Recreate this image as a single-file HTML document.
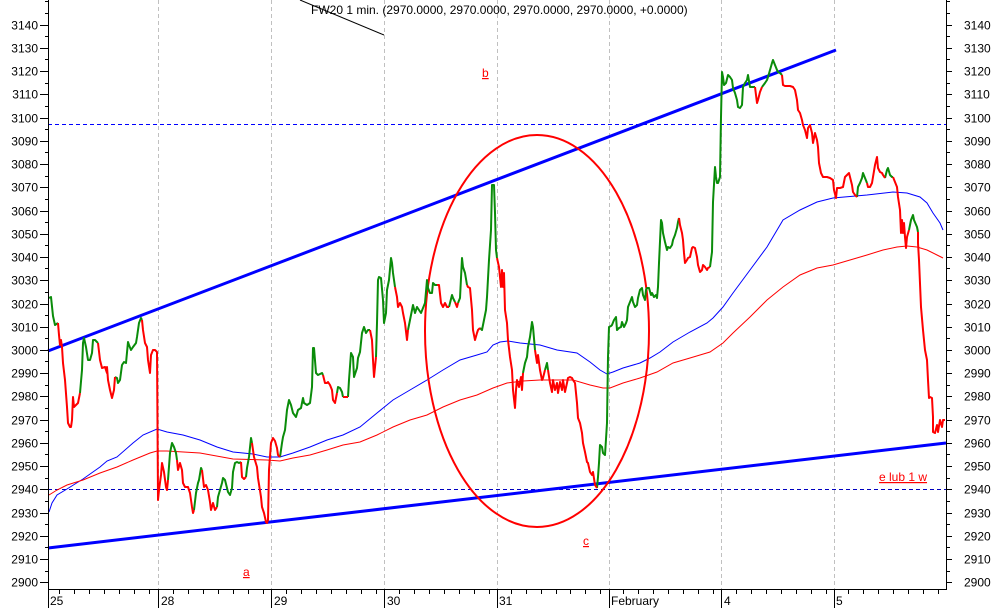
<!DOCTYPE html>
<html><head><meta charset="utf-8"><style>
html,body{margin:0;padding:0;background:#fff;}
svg{display:block;}
text{font-family:"Liberation Sans",Arial,sans-serif;font-size:12px;fill:#000;}
.lbl{fill:#f00;text-decoration:underline;}
</style></head><body>
<svg width="994" height="608" viewBox="0 0 994 608" xmlns="http://www.w3.org/2000/svg">
<rect width="994" height="608" fill="#fff"/>
<!-- vertical day gridlines -->
<g stroke="#c0c0c0" stroke-width="1" stroke-dasharray="4,3">
<line x1="158.5" y1="0" x2="158.5" y2="589"/>
<line x1="271.5" y1="0" x2="271.5" y2="589"/>
<line x1="384.5" y1="0" x2="384.5" y2="589"/>
<line x1="497.5" y1="0" x2="497.5" y2="589"/>
<line x1="609.5" y1="0" x2="609.5" y2="589"/>
<line x1="721.5" y1="0" x2="721.5" y2="589"/>
<line x1="834.5" y1="0" x2="834.5" y2="589"/>
</g>
<!-- horizontal dashed levels -->
<line x1="48" y1="124.5" x2="946" y2="124.5" stroke="#0000ff" stroke-width="1" stroke-dasharray="4,3"/>
<line x1="48" y1="489.5" x2="946" y2="489.5" stroke="#0000c0" stroke-width="1" stroke-dasharray="4,3"/>
<!-- diagonal black line near title -->
<line x1="300" y1="0" x2="384" y2="35" stroke="#000" stroke-width="1"/>
<!-- moving averages -->
<polyline fill="none" stroke="#0000ff" stroke-width="1" points="49,512 52,503 57,495 67,489 83,479 100,467 107,461 117,457 133,443 143,435 157,429 167,432 183,435 200,440 217,447 233,452 253,454 267,457 280,457 293,453 310,447 327,440 343,435 360,427 377,413 393,400 410,390 427,380 443,370 460,360 477,355 487,352 493,345 500,342 508,341 520,343 540,345 557,350 577,353 590,362 600,370 607,374 613,372 623,368 640,363 650,358 660,352 673,342 690,332 707,323 713,318 723,307 733,293 750,270 767,247 783,220 800,210 817,202 833,198 867,195 893,192 907,193 920,197 927,203 933,213 940,223 943,230"/>
<polyline fill="none" stroke="#ff0000" stroke-width="1" points="49,495 57,490 67,485 83,480 100,473 117,467 133,460 150,453 157,451 167,451 200,453 233,459 267,460 280,461 293,458 310,455 327,450 343,445 360,442 377,435 393,427 410,420 427,415 443,407 460,400 477,395 493,388 507,383 523,381 540,380 557,380 573,380 590,385 603,388 610,388 623,383 640,378 657,372 673,363 690,358 700,355 710,352 723,343 733,333 750,317 767,300 783,287 800,275 817,268 833,265 850,260 867,255 883,250 897,247 907,246 917,247 927,250 937,255 943,258"/>
<!-- trend lines -->
<line x1="48" y1="351" x2="836" y2="50" stroke="#0000ff" stroke-width="3"/>
<line x1="48" y1="548" x2="946" y2="443" stroke="#0000ff" stroke-width="3"/>
<!-- ellipse -->
<ellipse cx="537" cy="331" rx="112" ry="196" fill="none" stroke="#ff0000" stroke-width="2"/>
<!-- price -->
<g fill="none" stroke-width="2" stroke-linejoin="round">
<g stroke="#0a8c0a">
<polyline points="49,298 51,297 53,316 55,325 58,323"/>
<polyline points="80,393 82,370 83,343 84,338 86,347 88,360 90,360 92,353 93,340 95,340 98,343"/>
<polyline points="115,377 117,378 118,383 120,380 122,365 124,362 126,363 128,342 129,345 131,350 133,347 136,343 137,337 139,323 141,318 142,320"/>
<polyline points="168,480 170,453 172,443 174,447 176,453 177,460"/>
<polyline points="194,510 196,493 198,483 199,480 201,468 202,470"/>
<polyline points="217,507 218,497 220,490 222,483 223,478 225,480 227,488 228,492 230,495 232,488 233,472 235,463 237,462 239,463 241,462"/>
<polyline points="246,477 247,468 249,457 251,438 252,443"/>
<polyline points="280,457 282,443 283,437 285,430 287,410 289,400 291,405 293,413 296,417 298,410 301,408 303,398 304,403 307,405 310,403 312,387 313,348 314,348 316,373 318,375 322,373 323,375"/>
<polyline points="337,393 338,387 340,388 342,392 343,397"/>
<polyline points="348,397 349,380 351,353 353,357 354,377 357,368 358,358 360,352 362,333 364,327 366,333 368,330 370,330"/>
<polyline points="376,357 377,323 378,280 379,277 381,278 383,300 384,323 386,313 387,290 389,280 391,258 392,263 393,273 395,287"/>
<polyline points="408,330 410,320 412,310 413,305 415,313 417,307 419,310 421,313 423,308 425,303 427,280 428,288 430,293 432,293 433,283 435,285 437,285"/>
<polyline points="449,307 452,295 453,298 455,302"/>
<polyline points="458,303 460,298 462,258 463,267 465,273 467,285"/>
<polyline points="480,328 482,330 484,320 486,310 487,297 489,260 491,230 492,185 494,185 495,213 496,250 497,258"/>
<polyline points="523,373 525,363 527,357 528,347 530,337 532,322 533,327 535,350"/>
<polyline points="545,370 547,363 548,370"/>
<polyline points="597,488 598,477 599,463 600,445 602,447 603,453 605,455 607,423 608,357 609,327 611,326 612,325 614,320 616,317 617,330 619,328 621,327 622,322 624,327 626,323 627,320 628,307 630,302 632,297 633,302 635,307 637,305 638,298 640,290 642,288 643,295 645,300 646,290 647,288 649,288 651,295 652,293 654,297 656,295 657,298 658,287 659,263 661,220 662,223 663,233 665,242 667,250 668,247 670,248 672,245 673,240 675,235 677,228 678,222 679,218"/>
<polyline points="710,267 712,252 713,202 715,167 716,177 717,183 718,183 720,177 721,117 722,72 723,77 724,85 726,83 728,75 730,77 732,80 733,88 735,93 737,100 738,107 740,108 742,105 743,87 745,83 747,80 748,75 750,87 752,87 753,87 755,87"/>
<polyline points="762,87 765,83 767,80 768,77 770,70 772,63 773,60 775,65 777,70 778,72 780,73 782,75"/>
<polyline points="857,197 858,187 860,183 862,178 863,173 865,178 867,183"/>
<polyline points="885,178 887,170 888,168 890,175 892,177 893,177"/>
<polyline points="909,230 911,220 913,215 914,220 917,227 918,232"/>
</g>
<g stroke="#ff0000">
<polyline points="58,323 59,335 60,345 61,340 62,347 63,363 65,380 67,407 68,423 70,427 71,427 72,420 73,397 74,407 76,405 78,403 80,393"/>
<polyline points="98,343 100,360 102,368 105,367 107,373 107,367 108,380 110,390 112,398 114,390 115,377"/>
<polyline points="142,320 143,330 145,343 147,347 148,360 150,373 151,355 153,350 155,350 157,352 158,497 158,500 159,490 161,475 162,463 164,472 166,487 167,490 168,480"/>
<polyline points="177,460 178,470 180,463 182,470 183,483 185,487 187,487 188,487 190,493 192,507 193,513 194,510"/>
<polyline points="202,470 204,487 206,485 208,490 210,502 211,510 213,503 215,510 217,507"/>
<polyline points="241,462 242,477 244,479 246,477"/>
<polyline points="252,443 254,457 257,467 258,478 261,497 262,507 264,513 266,522 267,523 268,520 269,470 271,443 273,438 275,441 277,448 278,455 280,457"/>
<polyline points="323,375 325,383 327,383 328,382 330,385 332,390 333,400 335,403 337,393"/>
<polyline points="343,397 345,397 348,397"/>
<polyline points="370,330 372,340 373,360 374,377 376,357"/>
<polyline points="395,287 397,297 398,307 400,303 402,307 403,313 405,323 407,340 408,330"/>
<polyline points="437,285 439,285 441,303 443,307 445,303 447,307 449,307"/>
<polyline points="455,302 457,307 458,303"/>
<polyline points="467,285 468,287 470,288 472,310 473,330 475,340 477,333 478,330 480,328"/>
<polyline points="497,258 499,267 501,287 502,270 503,287 504,273 505,310 507,323 508,340 510,357 512,370 513,390 515,408 516,390 517,380 519,387 521,377 522,390 523,373"/>
<polyline points="535,350 537,363 538,355 540,370 542,380 543,378 545,370"/>
<polyline points="548,370 550,383 552,392 553,380 555,390 557,383 558,393 560,382 562,390 563,380 565,392 567,383 568,378 570,377 572,378 573,380 575,383 577,403 578,418 580,423 582,433 583,443 585,452 587,462 588,463 590,472 592,475 593,472 595,485 597,488"/>
<polyline points="679,218 680,225 682,233 683,240 684,253 685,263 687,260 688,258 690,257 692,248 693,247 695,248 697,257 698,265 700,272 702,270 703,265 705,267 707,270 708,268 710,267"/>
<polyline points="755,87 756,95 757,103 758,100 760,92 762,87"/>
<polyline points="782,75 783,85 785,86 790,86 793,87 795,90 797,100 798,110 800,113 802,120 803,125 805,130 807,138 808,128 810,125 812,133 813,143 815,133 817,140 818,147 819,163 821,173 823,177 827,177 830,178 833,180 834,190 836,198 837,188 840,188 843,187 845,177 847,175 849,173 850,177 852,185 853,192 855,195 857,197"/>
<polyline points="867,183 868,187 870,187 872,183 873,177 875,165 877,157 878,168 880,172 882,173 883,175 885,178"/>
<polyline points="893,177 895,182 897,187 898,197 900,210 901,233 902,220 903,233 904,223 905,237 906,248 907,237 909,230"/>
<polyline points="918,232 918,243 919,260 921,307 923,330 925,350 927,360 928,380 929,398 930,397 932,398 933,417 933,432 935,433 937,425 938,432 940,420 942,427 943,420 945,420"/>
</g>
</g>
<!-- axes -->
<g stroke="#000" stroke-width="1" fill="none">
<line x1="48.5" y1="0" x2="48.5" y2="608"/>
<line x1="946.5" y1="0" x2="946.5" y2="589.5"/>
<line x1="48" y1="589.5" x2="947" y2="589.5"/>
<!-- left ticks -->
<path d="M40,25.5h8M40,48.5h8M40,71.5h8M40,94.5h8M40,118.5h8M40,141.5h8M40,164.5h8M40,187.5h8M40,211.5h8M40,234.5h8M40,257.5h8M40,280.5h8M40,304.5h8M40,327.5h8M40,350.5h8M40,373.5h8M40,396.5h8M40,420.5h8M40,443.5h8M40,466.5h8M40,489.5h8M40,513.5h8M40,536.5h8M40,559.5h8M40,582.5h8"/>
<path d="M45,1.5h3M45,13.5h3M45,36.5h3M45,59.5h3M45,83.5h3M45,106.5h3M45,129.5h3M45,152.5h3M45,176.5h3M45,199.5h3M45,222.5h3M45,245.5h3M45,268.5h3M45,292.5h3M45,315.5h3M45,338.5h3M45,361.5h3M45,385.5h3M45,408.5h3M45,431.5h3M45,454.5h3M45,478.5h3M45,501.5h3M45,524.5h3M45,547.5h3M45,571.5h3"/>
<!-- right ticks -->
<path d="M946,25.5h6M946,48.5h6M946,71.5h6M946,94.5h6M946,118.5h6M946,141.5h6M946,164.5h6M946,187.5h6M946,211.5h6M946,234.5h6M946,257.5h6M946,280.5h6M946,304.5h6M946,327.5h6M946,350.5h6M946,373.5h6M946,396.5h6M946,420.5h6M946,443.5h6M946,466.5h6M946,489.5h6M946,513.5h6M946,536.5h6M946,559.5h6M946,582.5h6"/>
<path d="M946,1.5h4M946,13.5h4M946,36.5h4M946,59.5h4M946,83.5h4M946,106.5h4M946,129.5h4M946,152.5h4M946,176.5h4M946,199.5h4M946,222.5h4M946,245.5h4M946,268.5h4M946,292.5h4M946,315.5h4M946,338.5h4M946,361.5h4M946,385.5h4M946,408.5h4M946,431.5h4M946,454.5h4M946,478.5h4M946,501.5h4M946,524.5h4M946,547.5h4M946,571.5h4"/>
<!-- bottom long ticks -->
<path d="M158.5,589v19M271.5,589v19M384.5,589v19M497.5,589v19M609.5,589v19M721.5,589v19M834.5,589v19"/>
<!-- bottom minor ticks -->
<path d="M59.5,589v5M74.5,589v5M89.5,589v5M104.5,589v5M119.5,589v5M134.5,589v5M149.5,589v5
M173.5,589v5M188.5,589v5M203.5,589v5M218.5,589v5M233.5,589v5M248.5,589v5M263.5,589v5
M286.5,589v5M301.5,589v5M316.5,589v5M331.5,589v5M346.5,589v5M361.5,589v5M376.5,589v5
M399.5,589v5M414.5,589v5M429.5,589v5M444.5,589v5M459.5,589v5M474.5,589v5M489.5,589v5
M511.5,589v5M526.5,589v5M541.5,589v5M556.5,589v5M570.5,589v5M585.5,589v5M600.5,589v5
M623.5,589v5M638.5,589v5M653.5,589v5M668.5,589v5M683.5,589v5M698.5,589v5M713.5,589v5
M736.5,589v5M751.5,589v5M766.5,589v5M781.5,589v5M796.5,589v5M811.5,589v5M826.5,589v5
M848.5,589v5M863.5,589v5M878.5,589v5M893.5,589v5M908.5,589v5M923.5,589v5M938.5,589v5"/>
</g>
<!-- left labels -->
<g text-anchor="end">
<text x="38" y="29.5">3140</text><text x="38" y="52.5">3130</text><text x="38" y="75.5">3120</text><text x="38" y="98.5">3110</text><text x="38" y="122.5">3100</text><text x="38" y="145.5">3090</text><text x="38" y="168.5">3080</text><text x="38" y="191.5">3070</text><text x="38" y="215.5">3060</text><text x="38" y="238.5">3050</text><text x="38" y="261.5">3040</text><text x="38" y="284.5">3030</text><text x="38" y="308.5">3020</text><text x="38" y="331.5">3010</text><text x="38" y="354.5">3000</text><text x="38" y="377.5">2990</text><text x="38" y="400.5">2980</text><text x="38" y="424.5">2970</text><text x="38" y="447.5">2960</text><text x="38" y="470.5">2950</text><text x="38" y="493.5">2940</text><text x="38" y="517.5">2930</text><text x="38" y="540.5">2920</text><text x="38" y="563.5">2910</text><text x="38" y="586.5">2900</text>
</g>
<!-- right labels -->
<g>
<text x="964" y="29.5">3140</text><text x="964" y="52.5">3130</text><text x="964" y="75.5">3120</text><text x="964" y="98.5">3110</text><text x="964" y="122.5">3100</text><text x="964" y="145.5">3090</text><text x="964" y="168.5">3080</text><text x="964" y="191.5">3070</text><text x="964" y="215.5">3060</text><text x="964" y="238.5">3050</text><text x="964" y="261.5">3040</text><text x="964" y="284.5">3030</text><text x="964" y="308.5">3020</text><text x="964" y="331.5">3010</text><text x="964" y="354.5">3000</text><text x="964" y="377.5">2990</text><text x="964" y="400.5">2980</text><text x="964" y="424.5">2970</text><text x="964" y="447.5">2960</text><text x="964" y="470.5">2950</text><text x="964" y="493.5">2940</text><text x="964" y="517.5">2930</text><text x="964" y="540.5">2920</text><text x="964" y="563.5">2910</text><text x="964" y="586.5">2900</text>
</g>
<!-- bottom labels -->
<g>
<text x="50" y="605">25</text>
<text x="161" y="605">28</text>
<text x="274" y="605">29</text>
<text x="387" y="605">30</text>
<text x="499" y="605">31</text>
<text x="611" y="605">February</text>
<text x="724" y="605">4</text>
<text x="836" y="605">5</text>
</g>
<!-- title -->
<text x="311" y="14">FW20 1 min. (2970.0000, 2970.0000, 2970.0000, 2970.0000, +0.0000)</text>
<!-- annotation labels -->
<text class="lbl" x="482" y="77">b</text>
<text class="lbl" x="243" y="576">a</text>
<text class="lbl" x="583" y="545">c</text>
<text class="lbl" x="879" y="481">e lub 1 w</text>
</svg>
</body></html>
